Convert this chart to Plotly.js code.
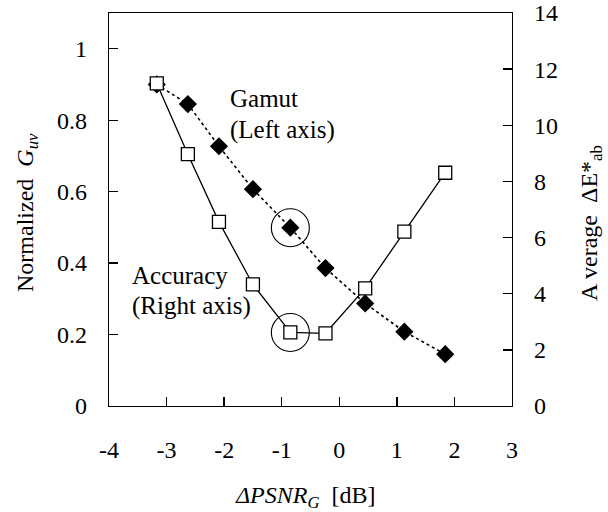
<!DOCTYPE html>
<html>
<head>
<meta charset="utf-8">
<script src="https://cdn.plot.ly/plotly-3.0.1.min.js"></script>
<style>
html,body{margin:0;padding:0;background:#fff;}
#chart{width:608px;height:512px;}
</style>
</head>
<body>
<div id="chart"></div>
<script>
// Data
var deltaPSNR = [-3.17, -2.63, -2.09, -1.50, -0.85, -0.24, 0.45, 1.13, 1.84];
var gamutNorm = [0.900, 0.845, 0.727, 0.607, 0.499, 0.386, 0.287, 0.208, 0.145];
var accuracyDE = [11.49, 8.97, 6.56, 4.33, 2.62, 2.59, 4.19, 6.21, 8.31];
var xTicks = [-4, -3, -2, -1, 0, 1, 2, 3];
var xTickText = ['-4', '-3', '-2', '-1', '0', '1', '2', '3'];
var yLeftTicks = [0, 0.2, 0.4, 0.6, 0.8, 1];
var yLeftText = ['0', '0.2', '0.4', '0.6', '0.8', '1'];
var yRightTicks = [0, 2, 4, 6, 8, 10, 12, 14];
var circledIndex = 4;

var F = 'Liberation Serif';

var traces = [
  {
    x: deltaPSNR, y: gamutNorm, xaxis: 'x', yaxis: 'y',
    mode: 'lines+markers', name: 'Gamut',
    line: {color: '#000', width: 1.6, dash: 'dot'},
    marker: {symbol: 'diamond', size: 14, color: '#000'},
    showlegend: false, hoverinfo: 'skip'
  },
  {
    x: deltaPSNR, y: accuracyDE, xaxis: 'x', yaxis: 'y2',
    mode: 'lines+markers', name: 'Accuracy',
    line: {color: '#000', width: 1.3},
    marker: {symbol: 'square', size: 13, color: '#fff', line: {color: '#000', width: 1.3}},
    showlegend: false, hoverinfo: 'skip'
  },
  {
    x: [deltaPSNR[circledIndex]], y: [gamutNorm[circledIndex]], xaxis: 'x', yaxis: 'y',
    mode: 'markers', marker: {symbol: 'circle-open', size: 38, color: '#000', line: {width: 1.1, color: '#000'}},
    showlegend: false, hoverinfo: 'skip'
  },
  {
    x: [deltaPSNR[circledIndex]], y: [accuracyDE[circledIndex]], xaxis: 'x', yaxis: 'y2',
    mode: 'markers', marker: {symbol: 'circle-open', size: 38, color: '#000', line: {width: 1.1, color: '#000'}},
    showlegend: false, hoverinfo: 'skip'
  }
];

var layout = {
  width: 608, height: 512,
  margin: {l: 109, r: 96, t: 13, b: 106},
  paper_bgcolor: '#fff', plot_bgcolor: '#fff',
  font: {family: F, size: 22, color: '#000'},
  showlegend: false,
  xaxis: {
    range: [-4, 3], tickmode: 'array', tickvals: xTicks, ticktext: xTickText,
    ticks: 'inside', ticklen: 9, tickwidth: 1.3, tickcolor: '#000',
    showline: true, linecolor: '#000', linewidth: 1.3, mirror: true,
    showgrid: false, zeroline: false, ticklabelstandoff: 22,
    tickfont: {family: F, size: 24, color: '#000'}
  },
  yaxis: {
    range: [0, 1.1], tickmode: 'array', tickvals: yLeftTicks, ticktext: yLeftText,
    ticks: 'inside', ticklen: 9, tickwidth: 1.3, tickcolor: '#000',
    showline: true, linecolor: '#000', linewidth: 1.3,
    showgrid: false, zeroline: false, ticklabelstandoff: 16,
    tickfont: {family: F, size: 24, color: '#000'}
  },
  yaxis2: {
    range: [0, 14], overlaying: 'y', side: 'right', tickmode: 'array', tickvals: yRightTicks,
    ticks: 'inside', ticklen: 9, tickwidth: 1.3, tickcolor: '#000',
    showline: true, linecolor: '#000', linewidth: 1.3,
    showgrid: false, zeroline: false, ticklabelstandoff: 16,
    tickfont: {family: F, size: 24, color: '#000'}
  },
  annotations: [
    {text: 'Gamut', x: -1.93, y: 0.862, xref: 'x', yref: 'y', xanchor: 'left', yanchor: 'middle',
     showarrow: false, font: {family: F, size: 25}},
    {text: '(Left axis)', x: -1.93, y: 0.772, xref: 'x', yref: 'y', xanchor: 'left', yanchor: 'middle',
     showarrow: false, font: {family: F, size: 25}},
    {text: 'Accuracy', x: -3.64, y: 0.366, xref: 'x', yref: 'y', xanchor: 'left', yanchor: 'middle',
     showarrow: false, font: {family: F, size: 25}},
    {text: '(Right axis)', x: -3.64, y: 0.280, xref: 'x', yref: 'y', xanchor: 'left', yanchor: 'middle',
     showarrow: false, font: {family: F, size: 25}},
    {text: 'Normalized  <i>G<sub>uv</sub></i>', xref: 'paper', yref: 'paper',
     x: (27 - 109) / 403, y: (406 - 213) / 393, xanchor: 'center', yanchor: 'middle',
     textangle: -90, showarrow: false, font: {family: F, size: 24}},
    {text: 'A verage  ΔE*<sub>ab</sub>', xref: 'paper', yref: 'paper',
     x: (591 - 109) / 403, y: (406 - 223) / 393, xanchor: 'center', yanchor: 'middle',
     textangle: -90, showarrow: false, font: {family: F, size: 24}},
    {text: '<i>ΔPSNR<sub>G</sub></i>  [dB]', xref: 'paper', yref: 'paper',
     x: (305 - 109) / 403, y: (406 - 497) / 393, xanchor: 'center', yanchor: 'middle',
     showarrow: false, font: {family: F, size: 24}}
  ]
};

Plotly.newPlot('chart', traces, layout, {displayModeBar: false, staticPlot: true});
</script>
</body>
</html>
